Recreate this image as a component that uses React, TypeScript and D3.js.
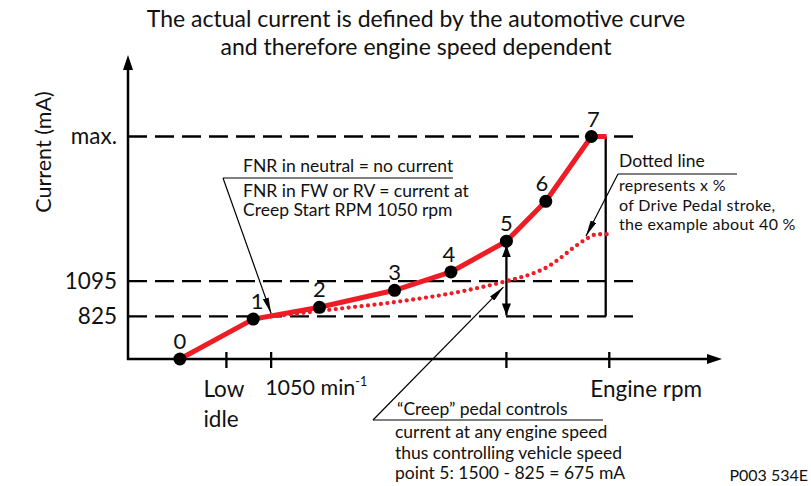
import React from "react";
import * as d3 from "d3";

// ---------- data ----------
const titleLines = [
  "The actual current is defined by the automotive curve",
  "and therefore engine speed dependent",
];
// automotive curve (solid red) – engine rpm vs current (mA, schematic)
const curveRpm = [540, 950, 1320, 1740, 2055, 2365, 2585, 2840];
const curveCurrent = [500, 805, 895, 1025, 1165, 1400, 1705, 2200];
const curveLabels = ["0", "1", "2", "3", "4", "5", "6", "7"];
const curveEndRpm = 2925;
// dotted curve (about 40 % drive pedal stroke)
const dottedRpm = [1050, 1400, 1770, 2145, 2365, 2515, 2590, 2665, 2735, 2815, 2870, 2935];
const dottedCurrent = [825, 880, 940, 1025, 1095, 1155, 1200, 1270, 1345, 1420, 1453, 1453];
// axis reference values
const yRefValues = [2200, 1095, 825];
const yRefLabels = ["max.", "1095", "825"];
const xTickValues = [800, 1050, 2365, 2940];
const lowIdleRpm = 800;
const creepStartRpm = 1050;
const point5Rpm = 2365;
const maxRpm = 2940;
const xAxisLabel = "Engine rpm";
const yAxisLabel = "Current (mA)";
const fnrLines = [
  "FNR in neutral = no current",
  "FNR in FW or RV = current at",
  "Creep Start RPM 1050 rpm",
];
const dottedNoteLines = [
  "Dotted line",
  "represents x %",
  "of Drive Pedal stroke,",
  "the example about 40 %",
];
const creepLines = [
  "\u201CCreep\u201D pedal controls",
  "current at any engine speed",
  "thus controlling vehicle speed",
  "point 5: 1500 - 825 = 675 mA",
];
const figureId = "P003 534E";

// ---------- layout ----------
const W = 811;
const H = 486;
const FONT = "Lato, 'Open Sans', sans-serif";
const RED = "#ee1c25";

export default function App() {
  const x = d3.scaleLinear().domain([250, 3570]).range([128, 722]);
  const y = d3.scaleLinear().domain([500, 2200]).range([359, 136.5]);

  const x0 = x(250);
  const y0 = y(500);
  const axisTopY = 55;

  const curvePts: [number, number][] = curveRpm.map((r, i) => [r, curveCurrent[i]]);
  const curveLine = d3
    .line<[number, number]>()
    .x((d) => x(d[0]))
    .y((d) => y(d[1]))
    .curve(d3.curveLinear);
  const solidPath = curveLine([...curvePts, [curveEndRpm, curveCurrent[curveCurrent.length - 1]]]) || "";

  const dottedPts: [number, number][] = dottedRpm.map((r, i) => [r, dottedCurrent[i]]);
  const dottedPath =
    d3
      .line<[number, number]>()
      .x((d) => x(d[0]))
      .y((d) => y(d[1]))
      .curve(d3.curveMonotoneX)(dottedPts) || "";

  const dashEnd = x(3085);
  const vLineX = x(curveEndRpm - 5);

  // annotation anchors
  const fnrTip: [number, number] = [x(creepStartRpm), y(825) - 3];
  const creepTip: [number, number] = [x(point5Rpm) - 3, y(1095) + 6];
  const dotTip: [number, number] = [x(2810), y(1425) - 2];

  const textStyle = { fontFamily: FONT, fill: "#111" } as const;

  return (
    <svg
      width={W}
      height={H}
      viewBox={`0 0 ${W} ${H}`}
      style={{ position: "absolute", left: 0, top: 0, background: "#fff" }}
    >
      <defs>
        <marker id="leader" viewBox="0 0 16 6" refX="16" refY="3" markerWidth="16" markerHeight="6" markerUnits="userSpaceOnUse" orient="auto">
          <path d="M0,0 L16,3 L0,6 Z" fill="#000" />
        </marker>
        <marker id="dbl" viewBox="0 0 12 9" refX="12" refY="4.5" markerWidth="12" markerHeight="9" markerUnits="userSpaceOnUse" orient="auto-start-reverse">
          <path d="M0,0 L12,4.5 L0,9 Z" fill="#000" />
        </marker>
      </defs>

      {/* title */}
      {titleLines.map((t, i) => (
        <text key={t} x={416} y={27 + i * 28} textAnchor="middle" fontSize={23} style={textStyle}>
          {t}
        </text>
      ))}

      {/* dashed reference lines */}
      {yRefValues.map((v) => (
        <line key={v} x1={x0} x2={dashEnd} y1={y(v)} y2={y(v)} stroke="#000" strokeWidth={2.3} strokeDasharray="19 8" />
      ))}
      {yRefValues.map((v, i) => (
        <text key={"l" + v} x={117} y={y(v) + 7.5} textAnchor="end" fontSize={22.5} style={textStyle}>
          {yRefLabels[i]}
        </text>
      ))}

      {/* y label */}
      <text
        transform={`translate(${51},${152}) rotate(-90)`}
        textAnchor="middle"
        fontSize={21.5}
        style={textStyle}
      >
        {yAxisLabel}
      </text>

      {/* axes */}
      <line x1={x0} x2={x0} y1={y0 + 1} y2={axisTopY + 12} stroke="#000" strokeWidth={2.5} />
      <path d={`M${x0 - 5},${axisTopY + 15} L${x0},${axisTopY} L${x0 + 5},${axisTopY + 15} Z`} fill="#000" />
      <line x1={x0 - 1} x2={x(3570) - 12} y1={y0} y2={y0} stroke="#000" strokeWidth={2.5} />
      <path d={`M${x(3570) - 15},${y0 - 5} L${x(3570)},${y0} L${x(3570) - 15},${y0 + 5} Z`} fill="#000" />
      {xTickValues.map((v) => (
        <line key={v} x1={x(v)} x2={x(v)} y1={y0 - 7} y2={y0 + 9} stroke="#000" strokeWidth={2.3} />
      ))}

      {/* x labels */}
      <text x={x(lowIdleRpm) - 23} y={397} fontSize={22.5} style={textStyle}>Low</text>
      <text x={x(lowIdleRpm) - 23} y={427} fontSize={22.5} style={textStyle}>idle</text>
      <text x={x(creepStartRpm) - 6} y={395} fontSize={21.5} style={textStyle}>
        1050 min<tspan fontSize={12.5} dy={-9}>-1</tspan>
      </text>
      <text x={x(maxRpm) - 19} y={397} fontSize={22.5} style={textStyle}>{xAxisLabel}</text>

      {/* vertical line at max rpm */}
      <line x1={vLineX} x2={vLineX} y1={y(2200)} y2={y(825)} stroke="#000" strokeWidth={2.3} />

      {/* double arrow at point 5 */}
      <line
        x1={x(point5Rpm)}
        x2={x(point5Rpm)}
        y1={y(1400) + 4}
        y2={y(825) - 1}
        stroke="#000"
        strokeWidth={2.3}
        markerStart="url(#dbl)"
        markerEnd="url(#dbl)"
      />

      {/* dotted curve */}
      <path d={dottedPath} fill="none" stroke={RED} strokeWidth={4.3} strokeLinecap="round" strokeDasharray="0 6.5" />

      {/* solid curve */}
      <path d={solidPath} fill="none" stroke={RED} strokeWidth={5} strokeLinejoin="round" />
      {curvePts.map((d, i) => (
        <circle key={i} cx={x(d[0])} cy={y(d[1])} r={6.5} fill="#000" />
      ))}
      {curvePts.map((d, i) => {
        const dx = [0, 4, 0, 0, -2, 0, -4, 2][i];
        return (
          <text key={"c" + i} x={x(d[0]) + dx} y={y(d[1]) - 10} textAnchor="middle" fontSize={22} style={textStyle}>
            {curveLabels[i]}
          </text>
        );
      })}

      {/* FNR annotation */}
      <text x={243} y={172} fontSize={17.5} style={textStyle}>{fnrLines[0]}</text>
      <line x1={223} x2={453} y1={178} y2={178} stroke="#000" strokeWidth={1.2} />
      <text x={243} y={197} fontSize={17.5} style={textStyle}>{fnrLines[1]}</text>
      <text x={243} y={216} fontSize={17.5} style={textStyle}>{fnrLines[2]}</text>
      <line x1={223} y1={178} x2={fnrTip[0]} y2={fnrTip[1]} stroke="#000" strokeWidth={1.2} markerEnd="url(#leader)" />

      {/* dotted line annotation */}
      <text x={619} y={167} fontSize={17.5} style={textStyle}>{dottedNoteLines[0]}</text>
      <line x1={618} x2={737} y1={174} y2={174} stroke="#000" strokeWidth={1.2} />
      {dottedNoteLines.slice(1).map((t, i) => (
        <text key={t} x={619} y={191 + i * 19.5} fontSize={16} letterSpacing={0.3} style={textStyle}>{t}</text>
      ))}
      <line x1={618} y1={174} x2={dotTip[0]} y2={dotTip[1]} stroke="#000" strokeWidth={1.2} markerEnd="url(#leader)" />

      {/* creep annotation */}
      <text x={397} y={415} fontSize={17.5} style={textStyle}>{creepLines[0]}</text>
      <line x1={373} x2={603} y1={420} y2={420} stroke="#000" strokeWidth={1.2} />
      {creepLines.slice(1).map((t, i) => (
        <text key={t} x={395} y={438 + i * 20.5} fontSize={17.5} style={textStyle}>{t}</text>
      ))}
      <line x1={373} y1={420} x2={creepTip[0]} y2={creepTip[1]} stroke="#000" strokeWidth={1.2} markerEnd="url(#leader)" />

      {/* figure id */}
      <text x={808} y={481} textAnchor="end" fontSize={16} style={textStyle}>{figureId}</text>
    </svg>
  );
}
